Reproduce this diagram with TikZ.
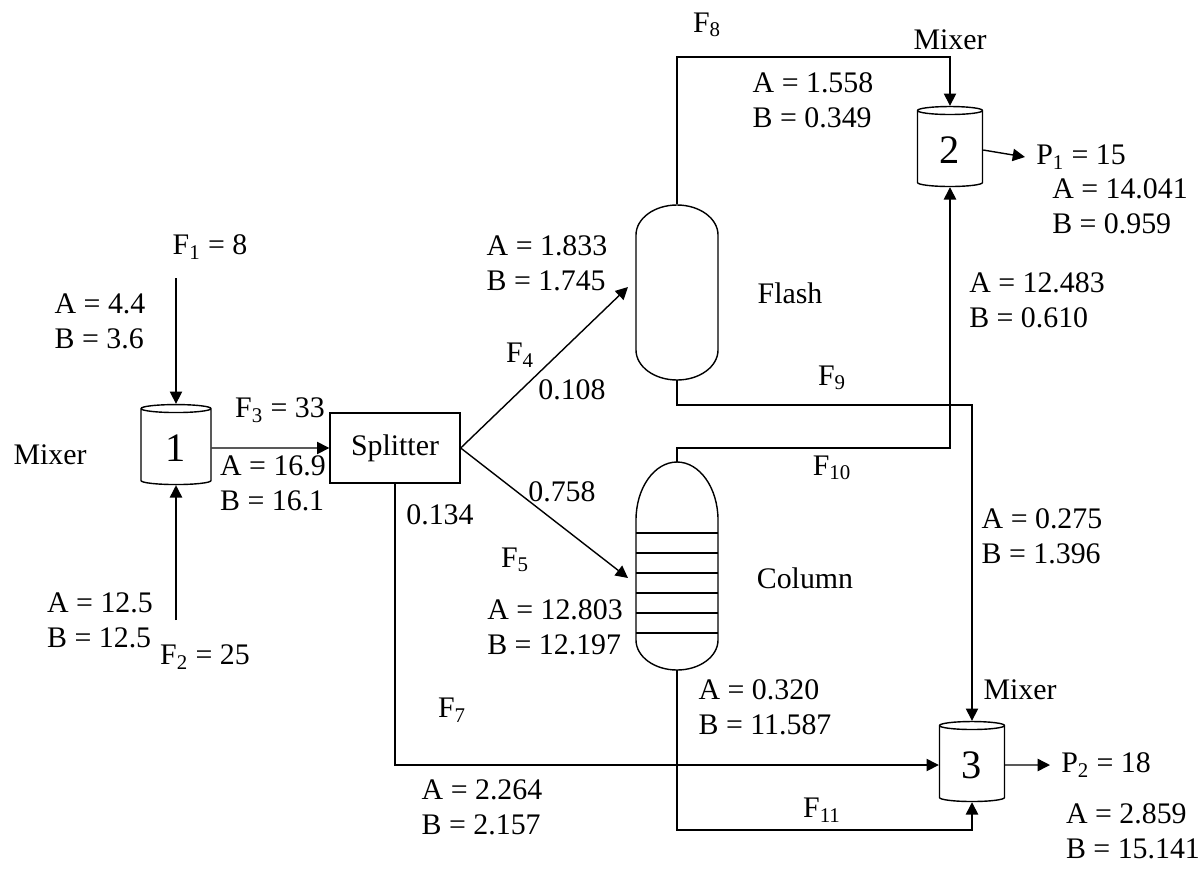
\documentclass[tikz,border=0pt]{standalone}
\usepackage{fontspec}
\setmainfont{Liberation Serif}
\usetikzlibrary{arrows.meta,positioning,shapes.geometric,calc}
\tikzset{
  lbl/.style={font=\fontsize{17}{20}\selectfont, inner sep=1pt},
  mixer/.style={cylinder, shape border rotate=90, draw, thick, aspect=0.25,
    minimum width=1.4cm, minimum height=1.6cm, font=\fontsize{23}{25}\selectfont},
  vessel/.style={rectangle, minimum width=1.66cm},
  flow/.style={thick, -{Triangle[length=7pt,width=7pt]}},
}
\begin{document}
\begin{tikzpicture}[x=0.02cm, y=-0.02cm]
  \useasboundingbox (0,0) rectangle (1200,883);
  % units
  \node[mixer] (mix1) at (176,448) {1};
  \node[mixer, minimum width=1.3cm] (mix2) at (950,150) {2};
  \node[mixer, minimum width=1.3cm] (mix3) at (972,765) {3};
  \node[draw, thick, minimum width=2.6cm, minimum height=1.4cm, lbl] (split) at (395,448) {Splitter};
  \node[vessel, minimum height=3.5cm] (flash) at (677,292) {};
  \node[vessel, minimum height=4.16cm] (col) at (677,566) {};
  % vessel outlines
  \draw[thick] (636,235) arc (180:360:41 and 30) -- (718,350) arc (0:180:41 and 30) -- cycle;
  \draw[thick] (636,520) arc (180:360:41 and 58) -- (718,640) arc (0:180:41 and 30) -- cycle;
  \foreach \yy in {533,553,573,593,613,633}
    \draw[thick] (636,\yy) -- (718,\yy);
  % feed / outlet points
  \coordinate (f1) at (176,278);
  \coordinate (f2) at (176,620);
  \coordinate (p1) at (1025,157);
  \coordinate (p2) at (1050,765);
  % streams
  \draw[flow] (f1) -- (mix1.top);
  \draw[flow] (f2) -- (mix1.bottom);
  \draw[flow] (mix1) -- (split);
  \draw[flow] (split.east) -- (628,287);
  \draw[flow] (split.east) -- (628,578);
  \draw[flow] (split.south) |- (mix3.west);
  \draw[flow] (flash.north) -- (677,57) -| (mix2.top);
  \draw[flow] (flash.south) -- (677,405) -| (mix3.top);
  \draw[flow] (col.north) -- (677,448) -| (mix2.bottom);
  \draw[flow] (col.south) -- (677,830) -| (mix3.bottom);
  \draw[flow] (mix2.east) -- (p1) node[right=5pt, lbl] {P\textsubscript{1} = 15};
  \draw[flow] (mix3.east) -- (p2) node[right=5pt, lbl] {P\textsubscript{2} = 18};
  % labels
  \node[lbl] at (210,247) {F\textsubscript{1} = 8};
  \node[lbl, align=left] at (100,321) {A = 4.4\\B = 3.6};
  \node[lbl] at (50,455) {Mixer};
  \node[lbl] at (280,410) {F\textsubscript{3} = 33};
  \node[lbl, align=left] at (273,483) {A = 16.9\\B = 16.1};
  \node[lbl] at (440,515) {0.134};
  \node[lbl, align=left] at (100,620) {A = 12.5\\B = 12.5};
  \node[lbl] at (205,657) {F\textsubscript{2} = 25};
  \node[lbl, align=left] at (547,263) {A = 1.833\\B = 1.745};
  \node[lbl] at (520,355) {F\textsubscript{4}};
  \node[lbl] at (572,390) {0.108};
  \node[lbl] at (562,492) {0.758};
  \node[lbl] at (515,560) {F\textsubscript{5}};
  \node[lbl, align=left] at (555,627) {A = 12.803\\B = 12.197};
  \node[lbl] at (790,293) {Flash};
  \node[lbl] at (805,578) {Column};
  \node[lbl] at (707,25) {F\textsubscript{8}};
  \node[lbl] at (950,40) {Mixer};
  \node[lbl, align=left] at (813,100) {A = 1.558\\B = 0.349};
  \node[lbl, align=left] at (1120,206) {A = 14.041\\B = 0.959};
  \node[lbl, align=left] at (1037,300) {A = 12.483\\B = 0.610};
  \node[lbl] at (832,378) {F\textsubscript{9}};
  \node[lbl] at (832,468) {F\textsubscript{10}};
  \node[lbl, align=left] at (1042,536) {A = 0.275\\B = 1.396};
  \node[lbl] at (1020,690) {Mixer};
  \node[lbl, align=left] at (765,707) {A = 0.320\\B = 11.587};
  \node[lbl] at (452,710) {F\textsubscript{7}};
  \node[lbl, align=left] at (482,807) {A = 2.264\\B = 2.157};
  \node[lbl] at (822,810) {F\textsubscript{11}};
  \node[lbl, align=left] at (1133,831) {A = 2.859\\B = 15.141};
\end{tikzpicture}
\end{document}
